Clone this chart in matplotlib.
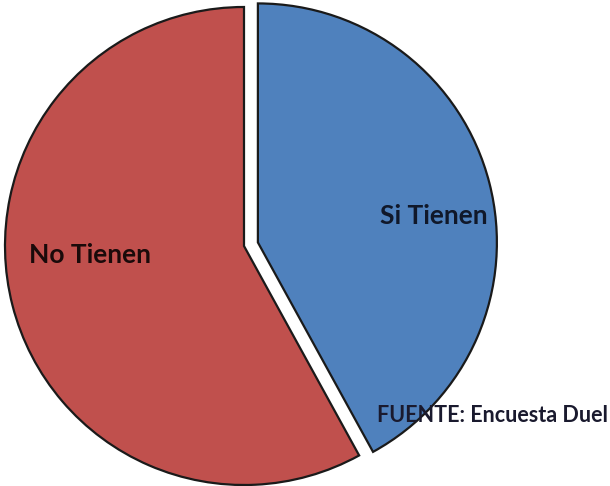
import matplotlib.pyplot as plt

labels = ["Si Tienen", "No Tienen"]
values = [42, 58]
colors = ["#4F81BD", "#C0504D"]
explode_frac = [0.06, 0.0]
source = "FUENTE: Encuesta Duel"

plt.rcParams["font.family"] = ["Lato", "DejaVu Sans"]

fig = plt.figure(figsize=(6.1, 4.86), dpi=100)
ax = fig.add_axes([0, 0, 1, 1])

# pie laid out in pixel coordinates of the figure
cx, cy, r = 244, 240, 239
wedges, _ = ax.pie(
    values,
    colors=colors,
    explode=[e * r for e in explode_frac],  # pie() takes explode in data units
    startangle=90,
    counterclock=False,
    center=(cx, cy),
    radius=r,
    frame=True,
    wedgeprops=dict(edgecolor="#1a1a1a", linewidth=1.6),
)
ax.set_xlim(0, 610)
ax.set_ylim(0, 486)
ax.set_aspect("equal")
ax.axis("off")

ax.text(434, 270, labels[0], ha="center", va="center",
        fontsize=19, fontweight="bold", color="#10182a")
ax.text(90, 231, labels[1], ha="center", va="center",
        fontsize=19, fontweight="bold", color="#1a0a0a")
ax.text(608, 71, source, ha="right", va="center",
        fontsize=15.5, fontweight="bold", color="#1a1a2e")

fig.savefig("out.png", dpi=100)
